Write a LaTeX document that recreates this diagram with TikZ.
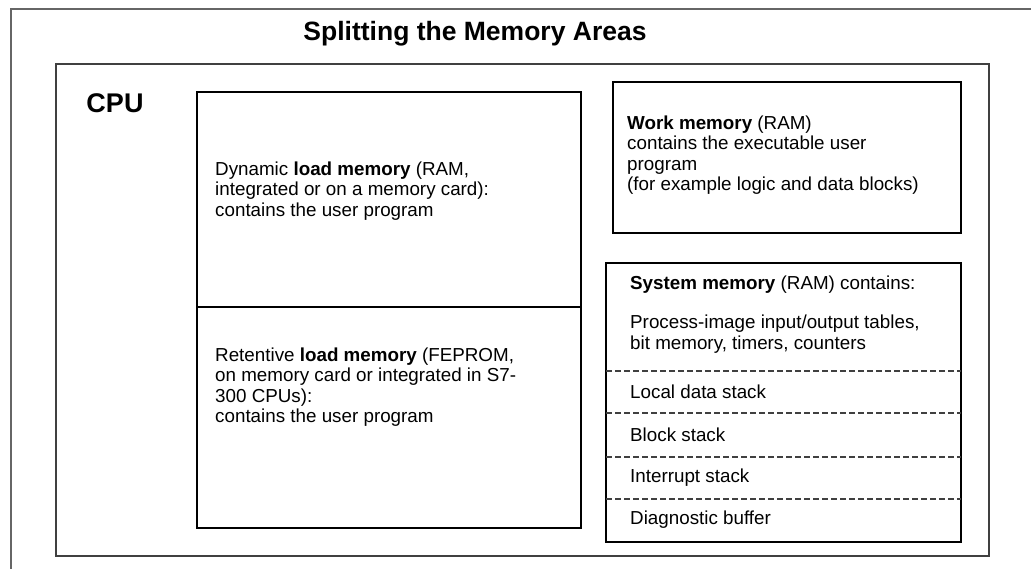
\documentclass[tikz,border=0pt]{standalone}
\usepackage{fontspec}
\setmainfont{Liberation Sans}
\begin{document}
\begin{tikzpicture}[x=1pt,y=-1pt,
  box/.style={draw=black, line width=1.2pt, inner sep=0pt, outer sep=0pt, anchor=north west},
  framel/.style={draw=black!60, line width=1.5pt},
  txt/.style={font=\fontsize{18.8}{20.5}\selectfont, align=left, inner sep=0pt, anchor=west},
  sepline/.style={draw=black!75, line width=1.1pt, dash pattern=on 6pt off 3pt}]
\useasboundingbox (0,0) rectangle (1031,569);
\fill[white] (0,0) rectangle (1031,569);
% outer frame (cut off)
\coordinate (fbl) at (11,569);
\coordinate (ftl) at (11,9);
\coordinate (ftr) at (1031,9);
\draw[framel] (fbl) -- (ftl) -- (ftr);
\node[font=\bfseries\fontsize{26.5}{30}\selectfont, inner sep=0pt] (title) at (475,34) {Splitting the Memory Areas};
% CPU box
\node[box, draw=black!75, line width=1.5pt, minimum width=933pt, minimum height=492pt] (cpu) at (56,64) {};
\node[font=\bfseries\fontsize{27}{30}\selectfont, inner sep=0pt] (cpulabel) at (115,103) {CPU};
% load memory
\node[box, minimum width=384pt, minimum height=215pt] (dyn) at (197,92) {};
\node[box, minimum width=384pt, minimum height=221pt] (ret) at (197,307) {};
\node[txt] (dyntext) at (215,191) {Dynamic \textbf{load memory} (RAM,\\integrated or on a memory card):\\contains the user program};
\node[txt] (rettext) at (215,387) {Retentive \textbf{load memory} (FEPROM,\\on memory card or integrated in S7-\\300 CPUs):\\contains the user program};
% work memory
\node[box, minimum width=348pt, minimum height=151pt] (work) at (613,82) {};
\node[txt] (worktext) at (627,155) {\textbf{Work memory} (RAM)\\contains the executable user\\program\\(for example logic and data blocks)};
% system memory
\node[box, minimum width=355pt, minimum height=279pt] (sys) at (606,263) {};
\node[txt] (syshead) at (630,285) {\textbf{System memory} (RAM) contains:};
\node[txt] (proc) at (630,334) {Process-image input/output tables,\\bit memory, timers, counters};
\coordinate (s1l) at (606,371); \coordinate (s1r) at (961,371);
\coordinate (s2l) at (606,413); \coordinate (s2r) at (961,413);
\coordinate (s3l) at (606,457); \coordinate (s3r) at (961,457);
\coordinate (s4l) at (606,499); \coordinate (s4r) at (961,499);
\draw[sepline] (s1l) -- (s1r);
\draw[sepline] (s2l) -- (s2r);
\draw[sepline] (s3l) -- (s3r);
\draw[sepline] (s4l) -- (s4r);
\node[txt] (local) at (630,392) {Local data stack};
\node[txt] (block) at (630,435) {Block stack};
\node[txt] (intr) at (630,478) {Interrupt stack};
\node[txt] (diag) at (630,520) {Diagnostic buffer};
\end{tikzpicture}
\end{document}
